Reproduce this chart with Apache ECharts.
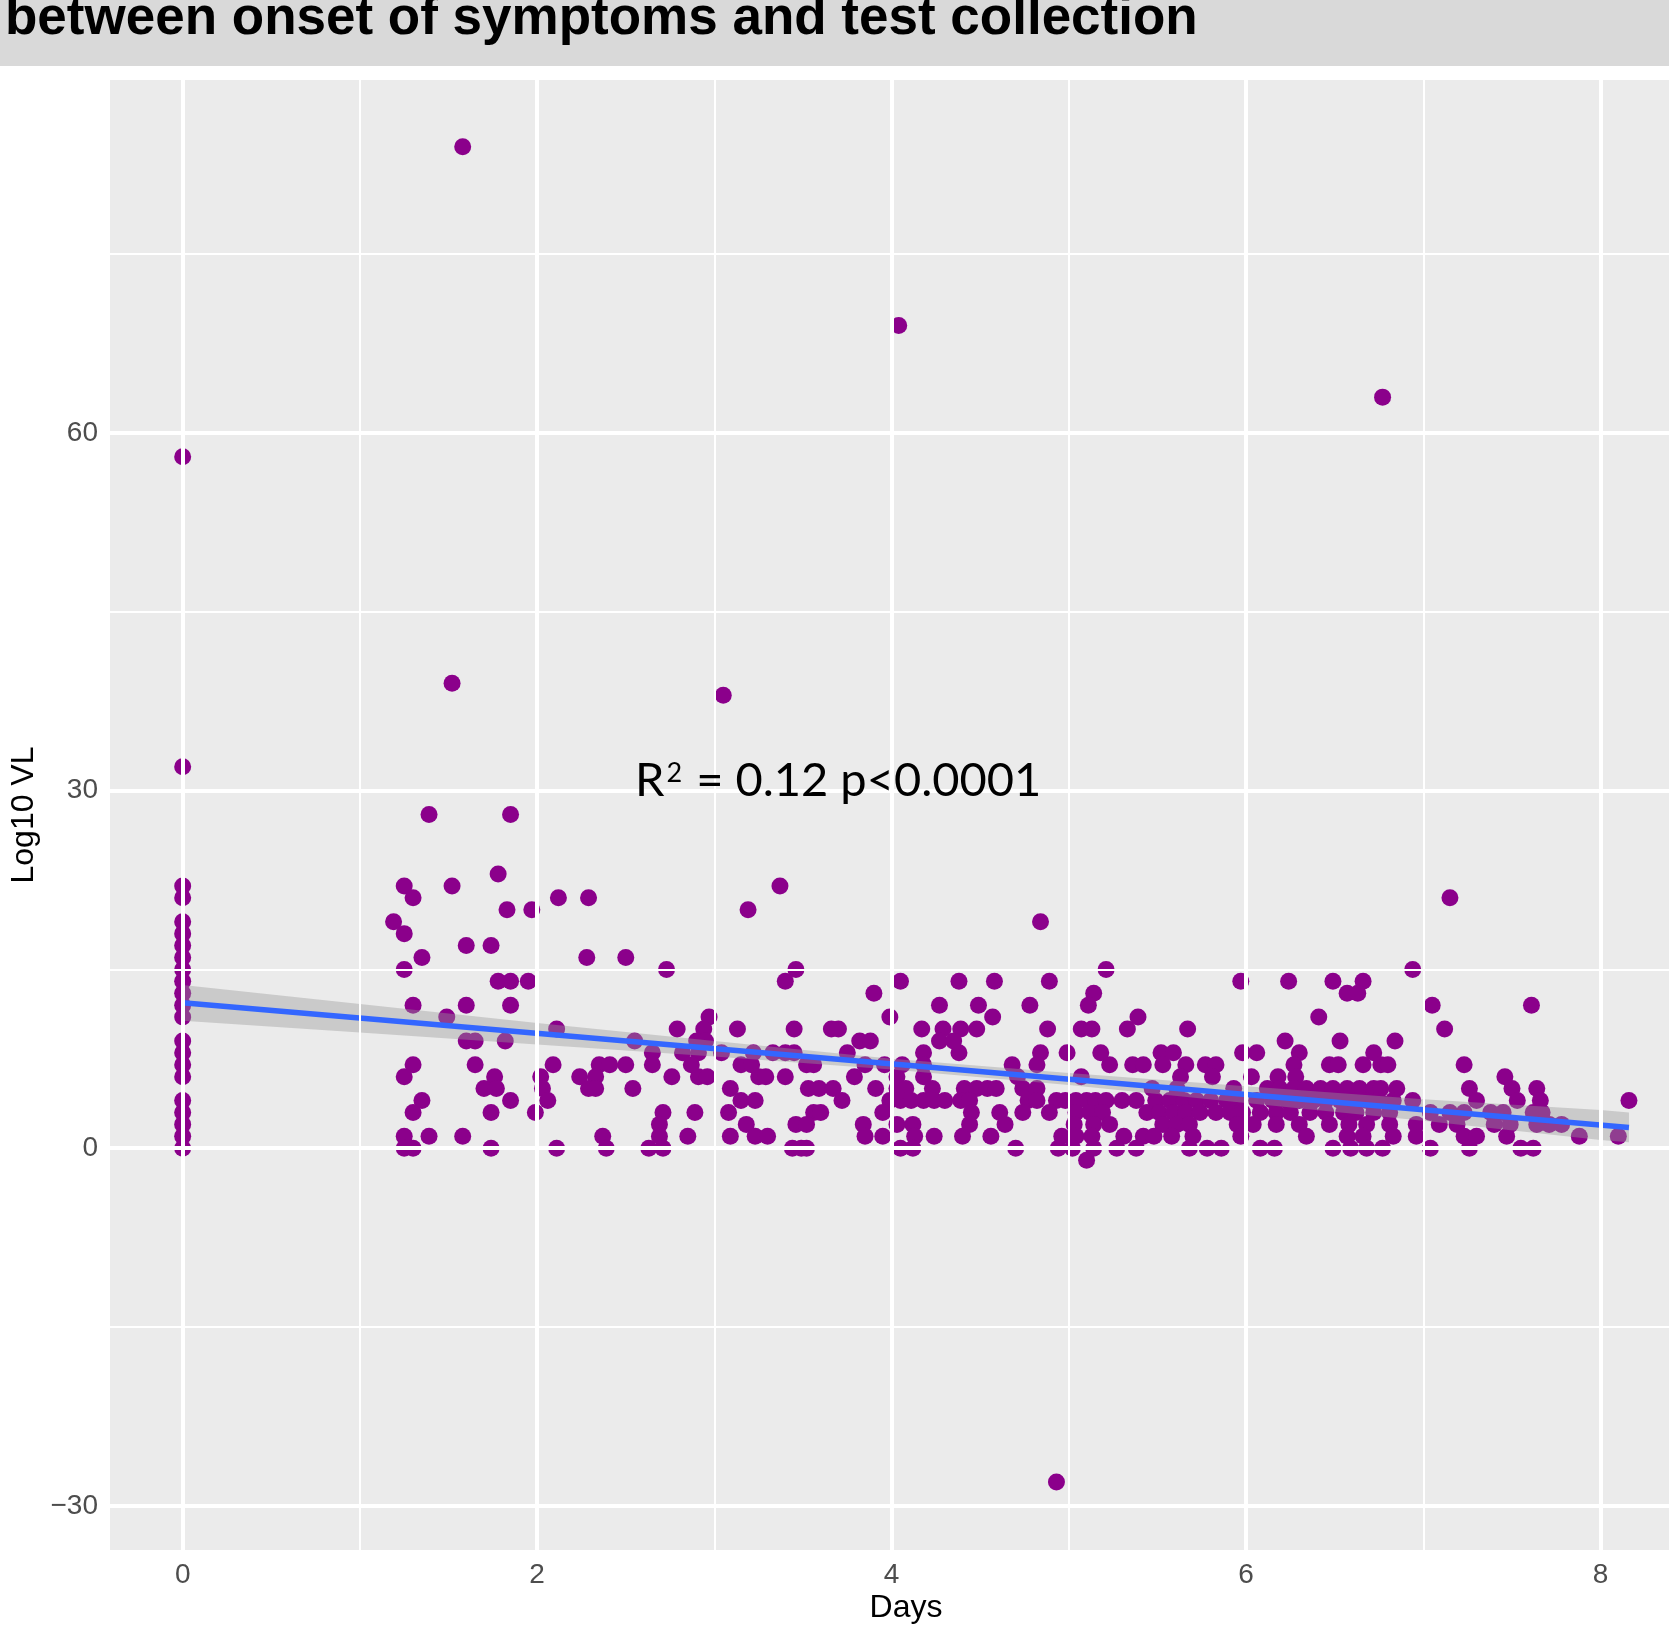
<!DOCTYPE html>
<html>
<head>
<meta charset="utf-8">
<script src="https://cdn.jsdelivr.net/npm/echarts@6/dist/echarts.min.js"></script>
<style>
  html, body { margin: 0; padding: 0; background: #fff; }
  #dom { width: 1669px; height: 1632px; }
</style>
</head>
<body>
<div id="dom"></div>
<script>
// points: [days, log10 VL]
var ptsDay0 = [[0,58],[0,32],[0,22],[0,21],[0,19],[0,18],[0,17],[0,16],[0,15],[0,14],[0,13],[0,12],[0,11],
  [0,9],[0,8],[0,7],[0,6],[0,4],[0,3],[0,2],[0,1],[0,0]];

var ptsOutliers = [[1.58,84],[4.04,69],[6.77,63],[1.52,39],[3.05,38],[1.39,28],[1.85,28],[4.93,-28]];

var ptsDay1 = [[1.78,23],[1.25,22],[1.52,22],[1.30,21],[2.12,21],[2.29,21],[1.83,20],[1.97,20],[1.19,19],
  [1.25,18],[1.60,17],[1.74,17],[1.35,16],[2.28,16],[2.50,16],[1.25,15],[1.78,14],[1.85,14],[1.95,14],
  [1.30,12],[1.60,12],[1.85,12],[1.49,11],[2.11,10],[1.60,9],[1.65,9],[1.82,9],[2.55,9],
  [1.30,7],[1.65,7],[2.09,7],[2.35,7],[2.41,7],[2.50,7],[1.25,6],[1.76,6],[2.02,6],[2.24,6],[2.33,6],
  [1.70,5],[1.77,5],[2.03,5],[2.29,5],[2.33,5],[2.54,5],[1.35,4],[1.85,4],[2.06,4],[1.30,3],[1.74,3],[1.99,3],
  [1.25,1],[1.39,1],[1.58,1],[2.37,1],[1.25,0],[1.30,0],[1.74,0],[2.11,0],[2.39,0]];

var ptsDay3 = [[3.37,22],[3.19,20],[2.73,15],[3.46,15],[3.40,14],[4.05,14],[3.90,13],[3.99,11],[2.97,11],
  [2.94,10],[2.79,10],[3.13,10],[3.45,10],[3.66,10],[3.70,10],[2.90,9],[2.95,9],[3.82,9],[3.88,9],
  [2.65,8],[2.82,8],[2.91,8],[3.04,8],[3.22,8],[3.33,8],[3.40,8],[3.45,8],[3.75,8],
  [2.65,7],[2.87,7],[3.15,7],[3.21,7],[3.52,7],[3.56,7],[3.85,7],[3.96,7],
  [2.76,6],[2.91,6],[2.96,6],[3.25,6],[3.29,6],[3.40,6],[3.79,6],[4.03,6],
  [3.09,5],[3.53,5],[3.59,5],[3.67,5],[3.91,5],[3.15,4],[3.23,4],[3.72,4],[3.99,4],
  [2.71,3],[2.89,3],[3.08,3],[3.56,3],[3.60,3],[3.95,3],[2.69,2],[3.18,2],[3.46,2],[3.52,2],[3.84,2],
  [2.69,1],[2.85,1],[3.09,1],[3.23,1],[3.30,1],[3.85,1],[3.95,1],
  [2.63,0],[2.71,0],[3.44,0],[3.49,0],[3.52,0],[4.05,0]];

var ptsDay4 = [[4.84,19],[5.21,15],[4.38,14],[4.58,14],[4.89,14],[5.14,13],[4.27,12],[4.49,12],[4.78,12],[5.11,12],
  [4.57,11],[5.39,11],[4.17,10],[4.29,10],[4.39,10],[4.48,10],[4.88,10],[5.07,10],[5.13,10],[5.33,10],
  [4.27,9],[4.35,9],[4.18,8],[4.38,8],[4.84,8],[4.99,8],[5.18,8],
  [4.06,7],[4.18,7],[4.68,7],[4.82,7],[5.23,7],[5.36,7],[5.42,7],[4.18,6],[4.71,6],[5.07,6],
  [4.03,5],[4.08,5],[4.23,5],[4.41,5],[4.48,5],[4.54,5],[4.59,5],[4.74,5],[4.82,5],
  [4.05,4],[4.11,4],[4.18,4],[4.24,4],[4.30,4],[4.39,4],[4.44,4],[4.77,4],[4.82,4],[4.93,4],[4.98,4],
  [5.04,4],[5.10,4],[5.15,4],[5.21,4],[5.30,4],[5.38,4],
  [4.45,3],[4.61,3],[4.74,3],[4.89,3],[5.04,3],[5.12,3],[5.19,3],[5.44,3],
  [4.03,2],[4.12,2],[4.44,2],[4.64,2],[5.03,2],[5.14,2],[5.23,2],
  [4.13,1],[4.24,1],[4.40,1],[4.56,1],[4.96,1],[5.04,1],[5.13,1],[5.31,1],[5.42,1],
  [4.12,0],[4.70,0],[4.94,0],[5.02,0],[5.14,0],[5.27,0],[5.38,0],[5.10,-1]];

var ptsDay6 = [[6.94,15],[5.97,14],[6.24,14],[6.49,14],[6.66,14],[6.57,13],[6.63,13],[6.41,11],[5.67,10],
  [6.22,9],[6.53,9],[6.84,9],[5.52,8],[5.59,8],[5.98,8],[6.06,8],[6.30,8],[6.72,8],
  [5.53,7],[5.66,7],[5.77,7],[5.83,7],[6.27,7],[6.47,7],[6.52,7],[6.66,7],[6.76,7],[6.80,7],
  [5.63,6],[5.81,6],[6.03,6],[6.18,6],[6.28,6],
  [5.47,5],[5.61,5],[5.93,5],[6.12,5],[6.19,5],[6.27,5],[6.34,5],[6.42,5],[6.49,5],[6.57,5],[6.64,5],
  [6.72,5],[6.76,5],[6.85,5],
  [5.49,4],[5.57,4],[5.65,4],[5.72,4],[5.80,4],[5.89,4],[5.96,4],[6.06,4],[6.15,4],[6.23,4],[6.30,4],
  [6.38,4],[6.45,4],[6.53,4],[6.60,4],[6.68,4],[6.75,4],[6.83,4],[6.94,4],
  [5.51,3],[5.59,3],[5.66,3],[5.74,3],[5.83,3],[5.91,3],[5.98,3],[6.08,3],[6.17,3],[6.25,3],[6.36,3],
  [6.45,3],[6.55,3],[6.62,3],[6.72,3],[6.81,3],
  [5.53,2],[5.61,2],[5.68,2],[5.95,2],[6.04,2],[6.17,2],[6.30,2],[6.47,2],[6.58,2],[6.68,2],[6.81,2],
  [5.48,1],[5.58,1],[5.70,1],[5.97,1],[6.34,1],[6.57,1],[6.66,1],[6.83,1],[6.96,1],
  [5.68,0],[5.78,0],[5.86,0],[6.08,0],[6.16,0],[6.49,0],[6.59,0],[6.68,0],[6.77,0]];

var ptsDay7 = [[7.15,21],[7.05,12],[7.61,12],[7.12,10],[7.23,7],[7.46,6],[7.26,5],[7.50,5],[7.64,5],
  [7.30,4],[7.53,4],[7.66,4],[8.16,4],
  [7.04,3],[7.15,3],[7.23,3],[7.38,3],[7.45,3],[7.62,3],[7.67,3],
  [6.96,2],[7.09,2],[7.19,2],[7.40,2],[7.49,2],[7.64,2],[7.71,2],[7.78,2],
  [7.23,1],[7.30,1],[7.47,1],[7.88,1],[8.10,1],
  [7.04,0],[7.26,0],[7.55,0],[7.62,0]];

// fitted line and its confidence band
var fitDays = [0, 8.16];
var fitVL = [12.2, 1.73];
var bandDays = [0, 1, 2, 3, 4, 5, 6, 7, 8, 8.16];
var bandUpper = [13.7, 12.1, 10.5, 9.0, 7.5, 6.3, 5.2, 4.1, 3.2, 3.0];
var bandLower = [10.7, 9.7, 8.7, 7.7, 6.6, 5.3, 3.8, 2.3, 0.7, 0.5];

// axes
var xTicks = [0, 2, 4, 6, 8];
var xMinor = [1, 3, 5, 7];
var yTicks = [-30, 0, 30, 60];
var yMinor = [-15, 15, 45, 75];
var xRange = [-0.41, 8.386];
var yRange = [-33.7, 89.6];

var allPts = ptsDay0.concat(ptsOutliers, ptsDay1, ptsDay3, ptsDay4, ptsDay6, ptsDay7);

var myChart = echarts.init(document.getElementById('dom'));

function gridLines() {
  var list = [];
  xMinor.forEach(function (v) { list.push({ xAxis: v, lineStyle: { width: 2 } }); });
  yMinor.forEach(function (v) { list.push({ yAxis: v, lineStyle: { width: 2 } }); });
  xTicks.forEach(function (v) { list.push({ xAxis: v, lineStyle: { width: 4 } }); });
  yTicks.forEach(function (v) { list.push({ yAxis: v, lineStyle: { width: 4 } }); });
  return list;
}

var font = '"Liberation Sans", Arial, sans-serif';

var option = {
  animation: false,
  backgroundColor: '#ffffff',
  grid: {
    left: 110, right: 0, top: 80, bottom: 82,
    show: true, backgroundColor: '#ebebeb', borderWidth: 0
  },
  xAxis: {
    type: 'value',
    min: xRange[0], max: xRange[1],
    axisLine: { show: false },
    splitLine: { show: false },
    axisTick: { show: true, customValues: xTicks, length: 8, lineStyle: { color: '#333333', width: 3 } },
    axisLabel: { customValues: xTicks, margin: 11, fontSize: 28, color: '#4d4d4d', fontFamily: font }
  },
  yAxis: {
    type: 'value',
    min: yRange[0], max: yRange[1],
    axisLine: { show: false },
    splitLine: { show: false },
    axisTick: { show: true, customValues: yTicks, length: 8, lineStyle: { color: '#333333', width: 3 } },
    axisLabel: {
      customValues: yTicks, margin: 12, fontSize: 28, color: '#4d4d4d', fontFamily: font,
      formatter: function (v) { return String(v).replace('-', '\u2212'); }
    }
  },
  series: [{
    // panel grid lines
    type: 'line',
    data: [],
    z: 1,
    silent: true,
    markLine: {
      silent: true,
      symbol: ['none', 'none'],
      label: { show: false },
      lineStyle: { color: '#ffffff', type: 'solid' },
      data: gridLines()
    }
  }, {
    type: 'scatter',
    data: allPts,
    z: 2,
    symbolSize: 17,
    itemStyle: { color: '#8b008b', opacity: 1 }
  }, {
    type: 'custom',
    z: 3,
    silent: true,
    data: [[0, 0]],
    renderItem: function (params, api) {
      var pts = [];
      for (var i = 0; i < bandDays.length; i++) {
        pts.push(api.coord([bandDays[i], bandUpper[i]]));
      }
      for (var j = bandDays.length - 1; j >= 0; j--) {
        pts.push(api.coord([bandDays[j], bandLower[j]]));
      }
      return {
        type: 'polygon',
        shape: { points: pts },
        style: { fill: 'rgba(153,153,153,0.4)' }
      };
    }
  }, {
    type: 'line',
    z: 4,
    silent: true,
    showSymbol: false,
    data: fitDays.map(function (d, i) { return [d, fitVL[i]]; }),
    lineStyle: { color: '#3366ff', width: 5.5 }
  }],
  graphic: [{
    type: 'rect',
    z: 100,
    shape: { x: 0, y: 0, width: 1669, height: 66 },
    style: { fill: '#d9d9d9' }
  }, {
    type: 'text',
    z: 101,
    x: 5, y: 19,
    style: {
      text: 'between onset of symptoms and test collection',
      font: 'bold 53px "Liberation Sans", Arial, sans-serif',
      fill: '#000000',
      textVerticalAlign: 'middle'
    }
  }, {
    type: 'text',
    z: 101,
    x: 635, y: 781,
    style: {
      text: '{r|R}{s|2}{r| = 0.12 p<0.0001}',
      font: '47px Lato, "Open Sans", sans-serif',
      fill: '#000000',
      textVerticalAlign: 'middle',
      rich: {
        r: { fontSize: 47, fontFamily: 'Lato', verticalAlign: 'bottom' },
        s: { fontSize: 27, fontFamily: 'Lato', verticalAlign: 'top', padding: [2, 2, 0, 2] }
      }
    }
  }, {
    type: 'text',
    z: 101,
    x: 906, y: 1608,
    style: {
      text: 'Days',
      font: '32px "Liberation Sans", Arial, sans-serif',
      fill: '#000000',
      textAlign: 'center',
      textVerticalAlign: 'middle'
    }
  }, {
    type: 'text',
    z: 101,
    x: 24, y: 815,
    rotation: Math.PI / 2,
    style: {
      text: 'Log10 VL',
      font: '32px "Liberation Sans", Arial, sans-serif',
      fill: '#000000',
      textAlign: 'center',
      textVerticalAlign: 'middle'
    }
  }]
};

myChart.setOption(option);
</script>
</body>
</html>
